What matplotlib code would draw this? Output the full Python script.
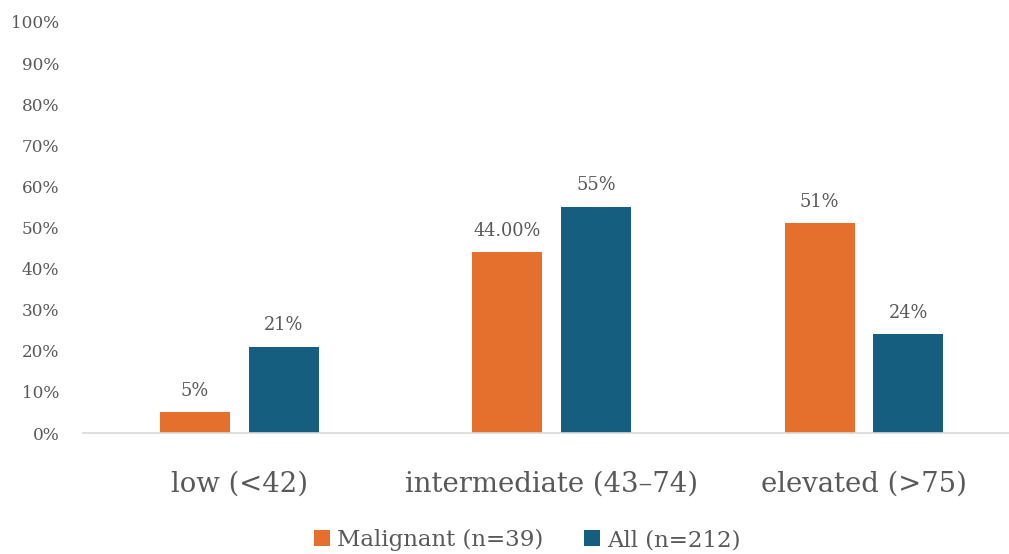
import numpy as np
import matplotlib.pyplot as plt
from matplotlib.ticker import PercentFormatter

categories = ["low (<42)", "intermediate (43\u201374)", "elevated (>75)"]
malignant = [5, 44, 51]
all_cases = [21, 55, 24]
malignant_labels = ["5%", "44.00%", "51%"]
all_labels = ["21%", "55%", "24%"]

orange = "#E5702D"
blue = "#165E80"
text_gray = "#595959"

plt.rcParams["font.family"] = ["DejaVu Serif"]

fig = plt.figure(figsize=(10.09, 5.54), dpi=100)
ax = fig.add_axes([83 / 1009, 1 - 433 / 554, 1 - 83 / 1009, 411 / 554])

x = np.arange(len(categories))
w = 0.224
off = 0.142
b1 = ax.bar(x - off, malignant, w, color=orange, label="Malignant (n=39)")
b2 = ax.bar(x + off, all_cases, w, color=blue, label="All (n=212)")

for bars, labels in [(b1, malignant_labels), (b2, all_labels)]:
    for rect, lab in zip(bars, labels):
        ax.annotate(lab, (rect.get_x() + rect.get_width() / 2, rect.get_height()),
                    xytext=(0, 9), textcoords="offset points",
                    ha="center", va="bottom", fontsize=12.8, color=text_gray)

ax.set_xlim(-0.5, 2.464)
ax.set_ylim(0, 100)
ax.set_yticks(range(0, 101, 10))
ax.yaxis.set_major_formatter(PercentFormatter(decimals=0))
ax.set_xticks(x)
ax.set_xticklabels(categories, fontsize=19.8, color=text_gray)
ax.tick_params(axis="x", length=0, pad=27)
ax.tick_params(axis="y", length=0, pad=17, labelsize=12.2, labelcolor=text_gray)

for s in ["top", "right", "left"]:
    ax.spines[s].set_visible(False)
ax.spines["bottom"].set_color("#D9D9D9")
ax.spines["bottom"].set_linewidth(1.2)

fig.legend(handles=[b1, b2], loc="center", bbox_to_anchor=(527 / 1009, 1 - 540 / 554),
           ncol=2, frameon=False, fontsize=16.5, handlelength=0.7, handleheight=0.7,
           handletextpad=0.3, columnspacing=1.8, labelcolor=text_gray)

fig.savefig("out.png", dpi=100)
